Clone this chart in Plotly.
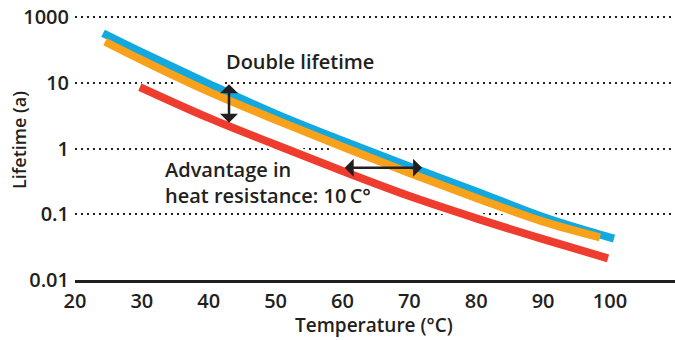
import plotly.graph_objects as go

# ---- data ----
blue_temp = [24.2, 30, 40, 50, 60, 70, 80, 90, 100.6]
blue_life = [57.5, 29.5, 9.77, 3.39, 1.32, 0.537, 0.224, 0.0912, 0.0427]

orange_temp = [24.5, 30, 40, 50, 60, 70, 80, 90, 98.5]
orange_life = [42.7, 22.4, 7.41, 2.75, 1.07, 0.427, 0.178, 0.0776, 0.0447]

red_temp = [29.7, 40, 50, 60, 70, 80, 90, 99.7]
red_life = [8.7, 2.95, 1.15, 0.457, 0.19, 0.087, 0.042, 0.0214]

x_ticks = [20, 30, 40, 50, 60, 70, 80, 90, 100]
y_tick_vals = [100, 10, 1, 0.1, 0.01]
y_tick_text = ["1000", "10", "1", "0.1", "0.01"]

INK = "#231f20"
FONT = "Open Sans"

series = [
    (blue_temp, blue_life, "#12a8e0"),
    (orange_temp, orange_life, "#f8a21c"),
    (red_temp, red_life, "#ee3d2e"),
]

fig = go.Figure()
# white halos that break the dotted grid lines
for xs, ys, _ in series:
    fig.add_trace(go.Scatter(x=xs, y=ys, mode="lines",
                             line=dict(color="white", width=13, shape="spline", smoothing=1),
                             hoverinfo="skip", showlegend=False))
for xs, ys, c in [series[2], series[0], series[1]]:
    fig.add_trace(go.Scatter(x=xs, y=ys, mode="lines",
                             line=dict(color=c, width=8, shape="spline", smoothing=1),
                             showlegend=False))

tick_font = dict(family=FONT, size=20, color=INK, weight=600)
fig.update_xaxes(range=[20, 109.72], tickvals=x_ticks, showgrid=False, zeroline=False,
                 showline=True, linecolor=INK, linewidth=2.5, ticks="",
                 tickfont=tick_font, ticklabelstandoff=1, automargin=False,
                 ticklabeloverflow="allow")
fig.update_yaxes(type="log", range=[-2, 2.266], tickvals=y_tick_vals, ticktext=y_tick_text,
                 showgrid=True, gridcolor=INK, gridwidth=2, griddash="2px,4px",
                 zeroline=False, showline=False, ticks="",
                 tickfont=tick_font, ticklabelstandoff=5, automargin=False,
                 ticklabeloverflow="allow")

anno_font = dict(family=FONT, size=20, color=INK, weight=600)
title_font = dict(family=FONT, size=18, color=INK, weight=600)
arrow_kw = dict(showarrow=True, arrowhead=1, startarrowhead=1, arrowside="end+start",
                arrowsize=1.2, startarrowsize=1.2, arrowwidth=2.5, arrowcolor=INK,
                xref="x", yref="y", axref="x", ayref="y", text="")
annotations = [
    # vertical double arrow (log units for y)
    dict(x=43.03, y=0.395, ax=43.03, ay=1.004, **arrow_kw),
    # horizontal double arrow
    dict(x=71.9, y=-0.289, ax=60.1, ay=-0.289, **arrow_kw),
    dict(x=42.3, y=1.323, xref="x", yref="y", text="Double lifetime", showarrow=False,
         xanchor="left", yanchor="middle", font=anno_font),
    dict(x=33.2, y=-0.517, xref="x", yref="y", text="Advantage in<br>heat resistance: 10\u2009C°",
         showarrow=False, xanchor="left", yanchor="middle", align="left", font=anno_font),
    dict(x=0, y=0.5, xref="paper", yref="paper", xshift=-56, text="Lifetime (a)",
         textangle=-90, showarrow=False, xanchor="center", yanchor="middle", font=title_font),
    dict(x=0.498, y=0, xref="paper", yref="paper", yshift=-45, text="Temperature (°C)",
         showarrow=False, xanchor="center", yanchor="middle",
         font=dict(family=FONT, size=19, color=INK, weight=600)),
]

fig.update_layout(width=675, height=340, margin=dict(l=75, r=0, t=0, b=60),
                  plot_bgcolor="white", paper_bgcolor="white",
                  annotations=annotations)

# remove the page's default 8px body margin so the figure fills the window
fig.write_html("out.html", config={"displayModeBar": False},
               post_script="document.body.style.margin='0';document.body.style.overflow='hidden';")
